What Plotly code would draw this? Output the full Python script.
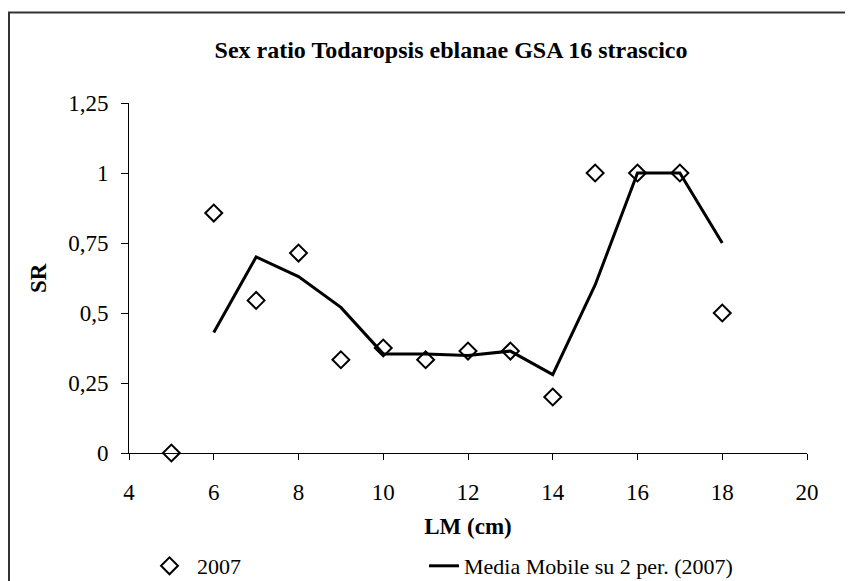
import plotly.graph_objects as go

# dati
lm_cm = [5, 6, 7, 8, 9, 10, 11, 12, 13, 14, 15, 16, 17, 18]
sr_2007 = [0, 0.857, 0.545, 0.714, 0.333, 0.375, 0.333, 0.364, 0.364, 0.2, 1, 1, 1, 0.5]

mm_x = [6, 7, 8, 9, 10, 11, 12, 13, 14, 15, 16, 17, 18]
mm_y = [0.43, 0.70, 0.63, 0.52, 0.354, 0.354, 0.348, 0.364, 0.28, 0.6, 1, 1, 0.75]

y_ticks = [0, 0.25, 0.5, 0.75, 1, 1.25]
y_labels = ["0", "0,25", "0,5", "0,75", "1", "1,25"]
x_ticks = [4, 6, 8, 10, 12, 14, 16, 18, 20]

FONT = "Liberation Serif, Times New Roman, serif"
W, H = 845, 573

fig = go.Figure()
fig.add_trace(go.Scatter(
    x=lm_cm, y=sr_2007, mode="markers", name="2007", legend="legend",
    marker=dict(symbol="diamond-open", size=13, color="black", line=dict(width=2)),
    cliponaxis=False,
))
fig.add_trace(go.Scatter(
    x=mm_x, y=mm_y, mode="lines", name="Media Mobile su 2 per. (2007)",
    legend="legend2", line=dict(color="black", width=3),
))

legend_style = dict(xref="container", yref="container", yanchor="middle",
                    xanchor="left", font=dict(size=22),
                    bgcolor="rgba(0,0,0,0)", borderwidth=0)

fig.update_layout(
    width=W, height=H,
    margin=dict(l=121, r=46, t=95, b=128, autoexpand=False),
    paper_bgcolor="white", plot_bgcolor="white",
    font=dict(family=FONT, size=23, color="black"),
    title=dict(text="<b>Sex ratio Todaropsis eblanae GSA 16 strascico</b>",
               x=443 / W, xanchor="center", y=1 - 42 / H, yanchor="middle",
               font=dict(size=24)),
    showlegend=True,
    legend=dict(x=134 / W, y=1 - 558 / H, itemwidth=45, **legend_style),
    legend2=dict(x=416 / W, y=1 - 558 / H, itemwidth=30, **legend_style),
)
fig.update_xaxes(
    range=[4, 20], tickvals=x_ticks, showgrid=False, zeroline=False,
    showline=True, linecolor="black", linewidth=1, automargin=False,
    ticks="outside", ticklen=6, tickcolor="black", ticklabelstandoff=12,
    title=dict(text="<b>LM (cm)</b>", standoff=14, font=dict(size=23)),
)
fig.update_yaxes(
    range=[0, 1.25], tickvals=y_ticks, ticktext=y_labels, showgrid=False,
    zeroline=False, showline=True, linecolor="black", linewidth=1, automargin=False,
    ticks="outside", ticklen=7, tickcolor="black", ticklabelstandoff=8,
)

# titolo asse Y
fig.add_annotation(text="<b>SR</b>", xref="paper", yref="paper",
                   x=(30 - 121) / 678, y=0.5, textangle=-90, showarrow=False,
                   xanchor="center", yanchor="middle", font=dict(size=23))

# bordo esterno dell'area del grafico
fig.add_shape(type="rect", xref="paper", yref="paper",
              x0=(1 - 121) / 678, x1=(900 - 121) / 678,
              y0=(445 - 600) / 350, y1=(445 - 4.5) / 350,
              line=dict(color="#333333", width=2), layer="below")

fig.write_html("out.html")
